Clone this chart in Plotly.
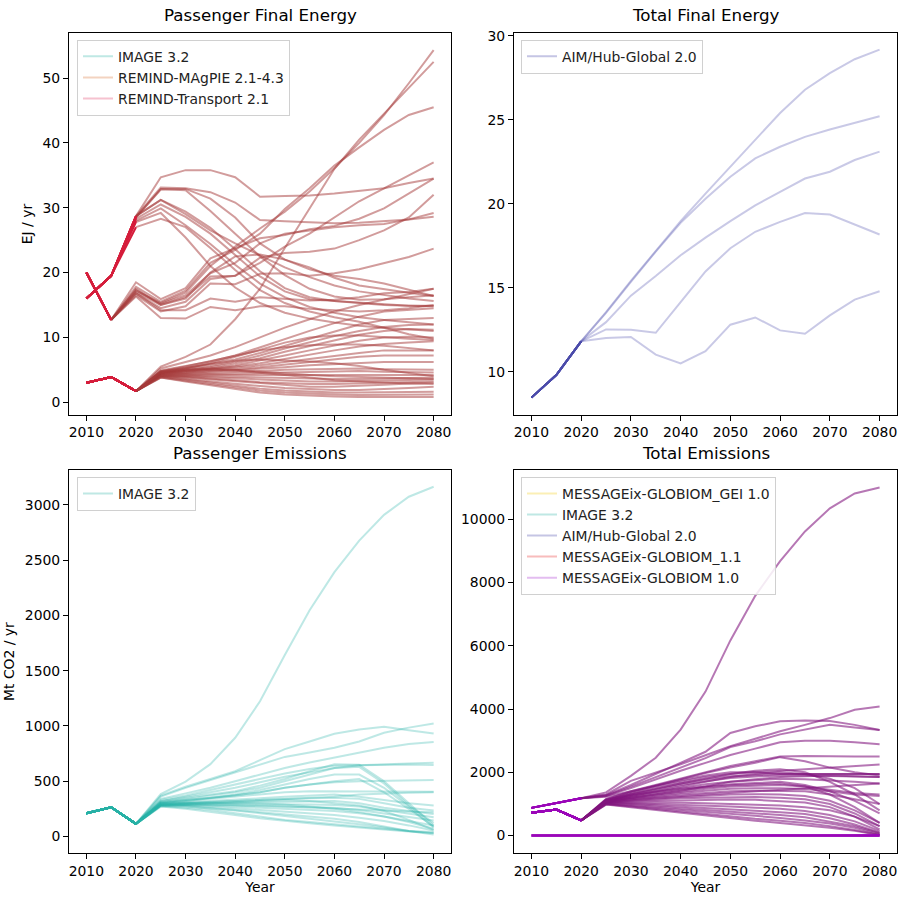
import plotly.graph_objects as go

YEARS = [2010, 2015, 2020, 2025, 2030, 2035, 2040, 2045, 2050, 2055, 2060, 2065, 2070, 2075, 2080]

# ---------------- Passenger Final Energy (EJ / yr) ----------------
PFE_TOP = [
    [16, 19.5, 28.7, 34.7, 35.8, 35.8, 34.7, 31.7, 31.8, 31.9, 32.2, 32.6, 33.0, 33.8, 34.5],
    [16, 19.5, 28.7, 33.1, 33.0, 32.4, 30.8, 28.1, 27.9, 27.7, 27.6, 27.7, 27.9, 28.2, 28.6],
    [16, 19.5, 28.5, 32.8, 32.9, 31.4, 28.5, 24.5, 22.0, 20.5, 19.5, 19.0, 18.3, 17.4, 16.4],
    [16, 19.5, 28.7, 31.2, 29.4, 26.9, 23.6, 20.2, 17.6, 16.2, 15.6, 15.4, 15.1, 14.9, 14.9],
    [16, 19.5, 28.3, 30.5, 28.6, 26.0, 22.7, 19.4, 17.1, 15.9, 15.6, 15.3, 15.0, 14.9, 14.8],
    [16, 19.5, 28.0, 29.9, 27.3, 24.4, 21.2, 18.3, 16.2, 14.7, 13.8, 13.1, 12.7, 12.3, 12.0],
    [16, 19.5, 27.8, 29.2, 25.4, 21.0, 17.7, 15.3, 13.8, 12.9, 12.3, 11.8, 11.5, 11.2, 11.0],
    [16, 19.5, 27.0, 28.3, 27.0, 23.8, 20.4, 17.3, 15.3, 14.0, 13.1, 12.4, 11.5, 10.5, 9.8],
    [16, 19.5, 28.5, 32.9, 32.7, 29.5, 26.0, 22.5, 19.6, 17.5, 16.3, 15.8, 15.9, 16.2, 16.5],
    [16, 19.5, 28.7, 31.2, 29.0, 26.5, 24.5, 22.7, 20.8, 19.3, 18.0, 17.1, 16.5, 16.0, 15.6],
]
PFE_MID = [
    [20, 12.7, 17.3, 15.3, 16.9, 21.0, 24.0, 26.8, 29.4, 32.5, 36.1, 40.0, 44.3, 49.2, 54.3],
    [20, 12.7, 17.8, 15.5, 17.2, 21.5, 23.5, 26.0, 29.8, 33.0, 36.5, 39.3, 42.0, 44.3, 45.5],
    [20, 12.7, 18.5, 15.9, 17.6, 22.2, 23.7, 25.3, 25.8, 26.7, 27.2, 28.3, 29.9, 32.2, 34.5],
    [20, 12.7, 17.0, 15.0, 16.2, 19.4, 19.5, 22.3, 23.0, 23.2, 23.7, 25.0, 26.5, 28.5, 32.0],
    [20, 12.7, 16.8, 14.5, 15.5, 19.0, 19.5, 21.5, 24.0, 26.0, 28.5, 31.0, 33.0, 35.0, 37.0],
    [20, 12.7, 16.5, 14.0, 14.8, 18.3, 18.2, 19.8, 19.9, 19.5, 19.9, 20.5, 21.5, 22.4, 23.7],
    [20, 12.7, 16.3, 13.0, 12.9, 14.7, 14.2, 14.8, 14.8, 14.4, 14.2, 14.0, 14.2, 14.5, 15.0],
    [20, 12.7, 16.8, 14.2, 14.2, 16.0, 15.5, 16.2, 16.0, 15.7, 15.8, 16.2, 16.8, 17.0, 17.5],
    [20, 12.7, 17.5, 15.0, 16.0, 20.0, 22.5, 22.8, 22.0, 20.8, 19.2, 18.0, 17.4, 16.9, 16.4],
    [20, 12.7, 17.2, 15.2, 16.5, 19.9, 21.5, 24.5, 26.0, 26.5, 27.0, 27.3, 27.5, 28.2, 29.2],
]
PFE_LOW = [
    [3, 3.9, 1.7, 5.5, 7.0, 8.9, 12.8, 17.5, 23.8, 30.0, 36.0, 40.5, 44.5, 48.5, 52.5],
    [3, 3.9, 1.7, 5.2, 6.2, 7.2, 8.5, 10.0, 11.5, 12.8, 14.0, 15.0, 15.8, 16.6, 17.5],
    [3, 3.9, 1.7, 4.9, 5.6, 6.3, 7.2, 8.5, 9.8, 11.0, 12.2, 13.2, 14.0, 14.2, 14.5],
    [3, 3.9, 1.7, 4.8, 5.3, 5.9, 6.6, 7.6, 8.7, 9.9, 11.0, 12.0, 12.7, 12.9, 13.0],
    [3, 3.9, 1.7, 4.7, 5.1, 5.6, 6.3, 7.2, 8.3, 9.3, 10.2, 11.0, 11.6, 11.9, 12.0],
    [3, 3.9, 1.7, 4.6, 5.0, 5.4, 6.0, 6.8, 7.8, 8.7, 9.6, 10.4, 11.0, 11.3, 11.2],
    [3, 3.9, 1.7, 4.6, 4.9, 5.2, 5.7, 6.4, 7.2, 8.0, 8.8, 9.5, 10.0, 10.1, 10.0],
    [3, 3.9, 1.7, 4.5, 4.8, 5.1, 5.5, 6.0, 6.7, 7.4, 8.0, 8.6, 9.0, 9.2, 9.4],
    [3, 3.9, 1.7, 4.5, 4.7, 5.0, 5.3, 5.7, 6.2, 6.7, 7.2, 7.6, 8.0, 8.0, 8.0],
    [3, 3.9, 1.7, 4.4, 4.6, 4.8, 5.1, 5.4, 5.8, 6.2, 6.6, 7.0, 7.2, 7.2, 7.2],
    [3, 3.9, 1.7, 4.4, 4.5, 4.7, 4.9, 5.1, 5.4, 5.7, 5.9, 6.1, 6.2, 6.2, 6.2],
    [3, 3.9, 1.7, 4.3, 4.4, 4.5, 4.6, 4.8, 5.0, 5.1, 5.2, 5.2, 5.1, 5.0, 5.0],
    [3, 3.9, 1.7, 4.3, 4.3, 4.3, 4.4, 4.5, 4.6, 4.7, 4.8, 4.8, 4.7, 4.6, 4.6],
    [3, 3.9, 1.7, 4.2, 4.2, 4.2, 4.2, 4.2, 4.3, 4.3, 4.3, 4.3, 4.2, 4.2, 4.2],
    [3, 3.9, 1.7, 4.2, 4.1, 4.0, 3.9, 3.8, 3.7, 3.6, 3.6, 3.6, 3.7, 3.8, 3.8],
    [3, 3.9, 1.7, 4.1, 4.0, 3.9, 3.7, 3.5, 3.3, 3.2, 3.2, 3.3, 3.4, 3.5, 3.5],
    [3, 3.9, 1.7, 4.1, 3.9, 3.7, 3.4, 3.1, 2.9, 2.8, 2.8, 2.9, 3.0, 3.1, 3.2],
    [3, 3.9, 1.7, 4.0, 3.8, 3.5, 3.2, 2.9, 2.6, 2.4, 2.4, 2.5, 2.7, 2.9, 3.0],
    [3, 3.9, 1.7, 4.0, 3.6, 3.2, 2.8, 2.5, 2.2, 2.0, 1.9, 1.9, 2.0, 2.2, 2.4],
    [3, 3.9, 1.7, 3.9, 3.5, 3.0, 2.5, 2.1, 1.8, 1.6, 1.5, 1.5, 1.5, 1.6, 1.6],
    [3, 3.9, 1.7, 3.8, 3.3, 2.8, 2.3, 1.8, 1.5, 1.3, 1.2, 1.1, 1.1, 1.1, 1.2],
    [3, 3.9, 1.7, 3.8, 3.2, 2.6, 2.0, 1.5, 1.2, 1.0, 0.9, 0.8, 0.8, 0.8, 0.8],
    [3, 3.9, 1.7, 4.6, 5.0, 5.2, 5.0, 4.7, 4.4, 4.2, 4.0, 3.9, 3.8, 3.7, 3.6],
    [3, 3.9, 1.7, 4.5, 4.8, 5.0, 4.9, 4.6, 4.2, 3.8, 3.4, 3.2, 3.0, 2.9, 2.8],
    [3, 3.9, 1.7, 4.7, 5.3, 5.9, 6.4, 6.6, 6.5, 6.3, 6.0, 5.6, 5.0, 4.5, 4.0],
    [3, 3.9, 1.7, 4.6, 5.2, 6.0, 7.0, 8.1, 9.2, 10.0, 10.3, 10.3, 10.0, 9.8, 9.6],
    [3, 3.9, 1.7, 4.8, 5.5, 6.3, 7.2, 8.0, 8.5, 8.8, 8.9, 8.9, 8.7, 8.4, 8.0],
]

# ---------------- Total Final Energy ----------------
TFE = [
    [8.46, 9.8, 11.81, 13.55, 15.41, 17.19, 18.96, 20.6, 22.2, 23.8, 25.4, 26.78, 27.77, 28.6, 29.17],
    [8.46, 9.8, 11.81, 13.5, 15.35, 17.15, 18.86, 20.3, 21.6, 22.7, 23.39, 23.98, 24.42, 24.8, 25.2],
    [8.46, 9.8, 11.81, 12.95, 14.53, 15.7, 16.93, 17.98, 18.96, 19.9, 20.7, 21.5, 21.9, 22.6, 23.1],
    [8.46, 9.8, 11.81, 12.52, 12.5, 12.32, 14.14, 15.97, 17.35, 18.33, 18.92, 19.45, 19.36, 18.76, 18.17],
    [8.46, 9.8, 11.81, 12.01, 12.07, 11.02, 10.49, 11.22, 12.8, 13.23, 12.46, 12.26, 13.35, 14.29, 14.79],
]

# ---------------- Passenger Emissions (Mt CO2 / yr) ----------------
PEM = [
    [210, 264, 114, 384, 497, 654, 893, 1223, 1643, 2047, 2392, 2677, 2911, 3075, 3165],
    [210, 264, 114, 360, 440, 510, 580, 650, 720, 760, 803, 860, 938, 985, 1022],
    [210, 264, 114, 370, 450, 520, 590, 690, 790, 860, 929, 968, 992, 962, 932],
    [210, 264, 114, 340, 390, 440, 500, 560, 620, 670, 713, 760, 803, 836, 854],
    [210, 264, 114, 320, 360, 400, 440, 490, 540, 580, 620, 645, 655, 660, 668],
    [210, 264, 114, 330, 370, 420, 470, 520, 570, 610, 640, 645, 650, 650, 647],
    [210, 264, 114, 320, 350, 380, 410, 460, 520, 590, 654, 650, 500, 300, 100],
    [210, 264, 114, 310, 340, 370, 400, 440, 500, 560, 620, 630, 480, 280, 120],
    [210, 264, 114, 305, 330, 350, 380, 420, 470, 520, 560, 560, 440, 270, 80],
    [210, 264, 114, 310, 330, 350, 370, 400, 440, 470, 490, 500, 505, 508, 510],
    [210, 264, 114, 300, 320, 340, 360, 380, 400, 410, 410, 405, 405, 405, 405],
    [210, 264, 114, 300, 310, 320, 330, 345, 360, 370, 380, 360, 330, 300, 279],
    [210, 264, 114, 295, 305, 310, 320, 330, 340, 345, 350, 340, 300, 260, 234],
    [210, 264, 114, 290, 300, 300, 305, 310, 315, 318, 320, 300, 260, 230, 204],
    [210, 264, 114, 290, 295, 295, 295, 295, 295, 290, 285, 270, 240, 210, 174],
    [210, 264, 114, 285, 290, 285, 280, 275, 270, 265, 260, 240, 210, 180, 144],
    [210, 264, 114, 285, 285, 280, 270, 260, 250, 240, 230, 210, 180, 140, 99],
    [210, 264, 114, 280, 280, 270, 255, 240, 225, 210, 195, 170, 140, 100, 54],
    [210, 264, 114, 280, 275, 260, 240, 220, 200, 180, 160, 130, 90, 50, 18],
    [210, 264, 114, 275, 270, 255, 235, 210, 185, 160, 140, 110, 80, 50, 30],
    [210, 264, 114, 275, 260, 240, 210, 180, 150, 130, 110, 90, 70, 50, 40],
    [210, 264, 114, 270, 250, 225, 195, 165, 140, 120, 100, 80, 60, 45, 30],
    [210, 264, 114, 280, 290, 300, 310, 320, 330, 320, 300, 280, 230, 150, 60],
    [210, 264, 114, 300, 320, 345, 370, 400, 440, 470, 500, 520, 400, 250, 90],
    [210, 264, 114, 290, 300, 310, 320, 330, 340, 350, 360, 380, 390, 395, 400],
    [210, 264, 114, 285, 290, 290, 285, 280, 270, 260, 250, 240, 230, 225, 220],
    [210, 264, 114, 295, 300, 305, 305, 300, 290, 270, 250, 220, 180, 130, 70],
]

# ---------------- Total Emissions ----------------
TEM = [
    [877, 1022, 1178, 1366, 1889, 2462, 3351, 4551, 6170, 7579, 8675, 9614, 10344, 10814, 11002],
    [877, 1022, 1178, 1300, 1732, 1990, 2255, 2540, 2828, 3060, 3298, 3500, 3715, 3977, 4081],
    [877, 1022, 1178, 1280, 1600, 1950, 2300, 2650, 3245, 3454, 3611, 3640, 3620, 3500, 3340],
    [877, 1022, 1178, 1260, 1550, 1850, 2150, 2450, 2800, 2980, 3200, 3350, 3500, 3420, 3340],
    [877, 1022, 1178, 1250, 1500, 1780, 2050, 2300, 2550, 2750, 2950, 3000, 3000, 2950, 2890],
    [877, 1022, 1178, 1230, 1400, 1580, 1750, 1900, 2000, 2000, 1950, 1950, 1950, 1950, 1950],
    [720, 824, 479, 1150, 1400, 1600, 1800, 2000, 2200, 2350, 2500, 2520, 2500, 2500, 2500],
    [720, 824, 479, 1150, 1380, 1580, 1780, 1980, 2150, 2300, 2480, 2350, 2150, 2000, 1900],
    [720, 824, 479, 1130, 1350, 1550, 1700, 1850, 1950, 2000, 2050, 2100, 2150, 2200, 2250],
    [720, 824, 479, 1120, 1320, 1500, 1650, 1780, 1880, 1920, 1950, 1950, 1950, 1950, 1950],
    [720, 824, 479, 1110, 1300, 1450, 1600, 1720, 1820, 1870, 1900, 1900, 1880, 1870, 1850],
    [720, 824, 479, 1100, 1280, 1400, 1520, 1620, 1700, 1750, 1800, 1780, 1750, 1700, 1650],
    [720, 824, 479, 1100, 1250, 1380, 1480, 1560, 1620, 1660, 1700, 1600, 1400, 1100, 700],
    [720, 824, 479, 1090, 1230, 1350, 1450, 1530, 1590, 1620, 1650, 1550, 1300, 900, 400],
    [720, 824, 479, 1080, 1200, 1300, 1400, 1480, 1550, 1580, 1600, 1550, 1450, 1350, 1300],
    [720, 824, 479, 1080, 1180, 1270, 1350, 1420, 1480, 1500, 1500, 1470, 1400, 1300, 1250],
    [720, 824, 479, 1070, 1150, 1230, 1300, 1350, 1400, 1420, 1420, 1400, 1300, 1150, 1000],
    [720, 824, 479, 1060, 1120, 1180, 1220, 1260, 1300, 1310, 1300, 1250, 1100, 800, 400],
    [720, 824, 479, 1050, 1100, 1150, 1180, 1200, 1220, 1220, 1200, 1150, 1000, 700, 300],
    [720, 824, 479, 1050, 1080, 1100, 1120, 1130, 1140, 1130, 1100, 1050, 900, 600, 200],
    [720, 824, 479, 1040, 1050, 1050, 1040, 1020, 1000, 970, 950, 900, 800, 600, 300],
    [720, 824, 479, 1030, 1020, 1000, 980, 950, 920, 880, 850, 780, 650, 450, 150],
    [720, 824, 479, 1020, 1000, 960, 920, 880, 830, 780, 740, 680, 550, 350, 100],
    [720, 824, 479, 1010, 970, 920, 870, 820, 760, 700, 650, 580, 450, 300, 80],
    [720, 824, 479, 1000, 940, 880, 820, 750, 680, 620, 560, 480, 380, 250, 50],
    [720, 824, 479, 990, 920, 840, 760, 680, 600, 530, 470, 400, 300, 180, 30],
    [720, 824, 479, 980, 900, 810, 720, 630, 550, 470, 400, 330, 250, 150, 20],
    [720, 824, 479, 1100, 1250, 1400, 1550, 1700, 1850, 1950, 2000, 1950, 1800, 1500, 1000],
    [720, 824, 479, 1120, 1300, 1480, 1650, 1800, 1950, 2050, 2100, 2000, 1700, 1300, 800],
    [720, 824, 479, 1090, 1200, 1300, 1420, 1550, 1700, 1780, 1850, 1880, 1900, 1880, 1850],
    [720, 824, 479, 1070, 1150, 1200, 1250, 1300, 1350, 1400, 1450, 1500, 1550, 1600, 1650],
]
TEM_ZERO = [
    [0, 0, 0, 0, 0, 0, 0, 0, 0, 0, 0, 0, 0, 0, 0],
    [0, 0, 0, 0, 0, 0, 0, 0, 0, 0, 0, 0, 0, 0, 0],
]

TITLES = ["Passenger Final Energy", "Total Final Energy", "Passenger Emissions", "Total Emissions"]
LEG1 = [("IMAGE 3.2", "#bfe8e4"), ("REMIND-MAgPIE 2.1-4.3", "#f3d3c0"), ("REMIND-Transport 2.1", "#f6c2cf")]
LEG2 = [("AIM/Hub-Global 2.0", "#c5c5e4")]
LEG3 = [("IMAGE 3.2", "#bfe8e4")]
LEG4 = [("MESSAGEix-GLOBIOM_GEI 1.0", "#fbefb5"), ("IMAGE 3.2", "#bfe8e4"),
        ("AIM/Hub-Global 2.0", "#c5c5e4"), ("MESSAGEix-GLOBIOM_1.1", "#f8bcbc"),
        ("MESSAGEix-GLOBIOM 1.0", "#e3bdf0")]

FONT = "DejaVu Sans"
W = H = 900
def px(x): return x / W
def py(y): return 1 - y / H

fig = go.Figure()

def add_panel(series_list, n, fut_color, hist_color, hist_end=3):
    xa = "x" if n == 1 else f"x{n}"
    ya = "y" if n == 1 else f"y{n}"
    for s in series_list:
        fig.add_trace(go.Scatter(x=YEARS[hist_end - 1:], y=s[hist_end - 1:], mode="lines", xaxis=xa, yaxis=ya,
                                 line=dict(color=fut_color, width=2), showlegend=False,
                                 hoverinfo="skip"))
    for s in series_list:
        fig.add_trace(go.Scatter(x=YEARS[:hist_end], y=s[:hist_end], mode="lines", xaxis=xa, yaxis=ya,
                                 line=dict(color=hist_color, width=2), showlegend=False,
                                 hoverinfo="skip"))

def add_legend(n, legend_items):
    xa = "x" if n == 1 else f"x{n}"
    ya = "y" if n == 1 else f"y{n}"
    lg = "legend" if n == 1 else f"legend{n}"
    for name, col in legend_items:
        fig.add_trace(go.Scatter(x=[None], y=[None], mode="lines", xaxis=xa, yaxis=ya,
                                 line=dict(color=col, width=2), name=name, legend=lg,
                                 showlegend=True))

PFE_FUT = "rgba(165,58,58,0.5)"
PFE_HIST = "#d51d3b"
add_panel(PFE_MID, 1, PFE_FUT, PFE_HIST, hist_end=2)
add_panel(PFE_TOP + PFE_LOW, 1, PFE_FUT, PFE_HIST)
add_legend(1, LEG1)
add_panel(TFE, 2, "rgba(90,90,180,0.33)", "#4b4baa")
add_legend(2, LEG2)
add_panel(PEM, 3, "rgba(40,180,170,0.3)", "#27b0a5")
add_legend(3, LEG3)
add_panel(TEM, 4, "rgba(130,20,125,0.58)", "#9a06b8")
for s in TEM_ZERO:
    fig.add_trace(go.Scatter(x=YEARS, y=s, mode="lines", xaxis="x4", yaxis="y4",
                             line=dict(color="#9a06b8", width=2.5), showlegend=False,
                             hoverinfo="skip"))
add_legend(4, LEG4)

XL, XR = [px(69), px(451)], [px(514), px(897)]
YT, YB = [py(411.5), py(27.5)], [py(852.7), py(467.3)]

tickfont = dict(family=FONT, size=13.9, color="black")
def xaxis(dom, anchor, title=None):
    d = dict(domain=dom, anchor=anchor, range=[2006.5, 2083.5], tickvals=[2010, 2020, 2030, 2040, 2050, 2060, 2070, 2080],
             showline=True, linecolor="black", linewidth=1, mirror=True, ticks="outside",
             ticklen=5, tickwidth=1, tickcolor="black", showgrid=False, zeroline=False,
             tickfont=tickfont)
    if title:
        d["title"] = dict(text=title, font=tickfont, standoff=4)
    return d

def yaxis(dom, anchor, rng, dtick, title=None):
    d = dict(domain=dom, anchor=anchor, range=rng, dtick=dtick, tick0=0, tickformat="d",
             showline=True, linecolor="black", linewidth=1, mirror=True, ticks="outside",
             ticklen=5, tickwidth=1, tickcolor="black", showgrid=False, zeroline=False,
             tickfont=tickfont)
    if title:
        d["title"] = dict(text=title, font=tickfont, standoff=6)
    return d

def legend(x, y):
    return dict(x=x, y=y, xanchor="left", yanchor="top", bgcolor="rgba(255,255,255,0.85)",
                bordercolor="#d0d0d0", borderwidth=1, font=dict(family=FONT, size=13.9, color="#222"),
                tracegroupgap=0, itemwidth=30)

annotations = []
centers = [((69 + 451) / 2, 9), ((514 + 897) / 2, 9), ((69 + 451) / 2, 450), ((514 + 897) / 2, 450)]
for t, (cx, cy) in zip(TITLES, centers):
    annotations.append(dict(text=t, x=px(cx), y=py(cy), xref="paper", yref="paper",
                            showarrow=False, xanchor="center", yanchor="middle",
                            font=dict(family=FONT, size=16.7, color="black")))

fig.update_layout(
    width=W, height=H, margin=dict(l=0, r=0, t=0, b=0),
    paper_bgcolor="white", plot_bgcolor="white",
    xaxis=xaxis(XL, "y"), yaxis=yaxis(YT, "x", [-1.93, 56.9], 10, "EJ / yr"),
    xaxis2=xaxis(XR, "y2"), yaxis2=yaxis(YT, "x2", [7.44, 30.14], 5),
    xaxis3=xaxis(XL, "y3", "Year"), yaxis3=yaxis(YB, "x3", [-150, 3315], 500, "Mt CO2 / yr"),
    xaxis4=xaxis(XR, "y4", "Year"), yaxis4=yaxis(YB, "x4", [-550, 11550], 2000),
    legend=legend(px(77), py(34)),
    legend2=legend(px(521), py(34)),
    legend3=legend(px(77), py(474)),
    legend4=legend(px(521), py(474)),
    annotations=annotations,
    showlegend=True,
)

fig.write_html("out.html")
